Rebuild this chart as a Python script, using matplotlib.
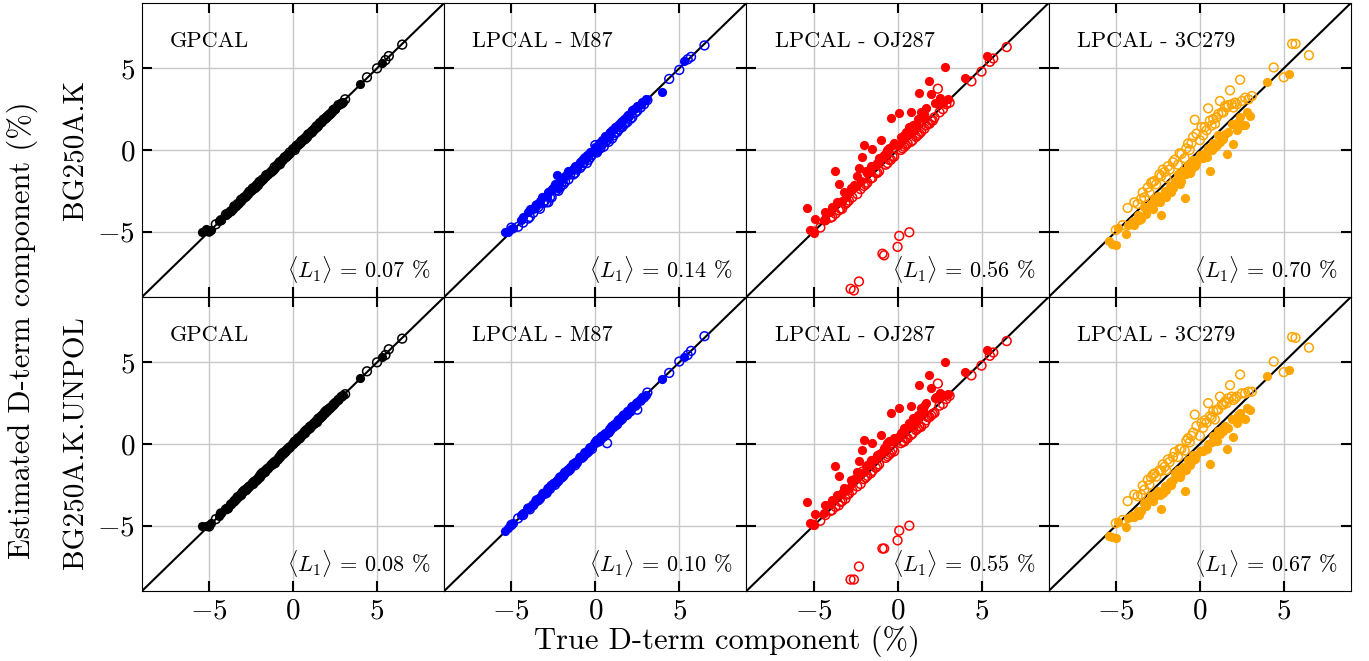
import matplotlib
matplotlib.use("Agg")
import matplotlib.pyplot as plt

# True D-term components (%), filled = one hand, open = the other
TRUE_FILLED = [-5.4, -5.2, -5.0, -4.9, -4.4, -4.3, -4.0, -3.7, -3.5, -3.3,
               -3.1, -2.9, -2.7, -2.6, -2.5, -2.3, -2.1, -2.0, -1.8, -1.7,
               -1.5, -1.3, -1.2, -1.0, -0.9, -0.7, -0.5, -0.4, -0.2, 0.0,
               0.1, 0.3, 0.5, 0.6, 0.8, 1.0, 1.1, 1.3, 1.5, 1.6,
               1.9, 2.0, 2.2, 2.4, 2.5, 2.7, 2.8, 3.0, 4.0, 5.3,
               -3.9, -3.6, -3.2, -2.8, -2.4, -2.2, -1.9, -1.6, -1.1, -0.8,
               -0.6, -0.3, 0.2, 0.4, 0.7, 0.9, 1.2, 1.4, 1.7, 2.3]
TRUE_OPEN = [-5.0, -4.6, -4.3, -4.0, -3.7, -3.5, -3.3, -3.1, -3.0, -2.8,
             -2.6, -2.3, -2.1, -2.0, -1.8, -1.6, -1.3, -1.1, -0.9, -0.8,
             -0.6, -0.5, -0.3, 0.0, 0.1, 0.2, 0.4, 0.5, 0.7, 0.9,
             1.0, 1.2, 1.4, 1.5, 1.7, 1.8, 2.0, 2.2, 2.4, 2.5,
             2.7, 2.9, 3.1, 4.4, 5.0, 5.5, 5.7, 6.5,
             -3.9, -3.4, -2.9, -2.7, -2.4, -2.2, -1.9, -1.5, -1.2, -0.7,
             -0.4, -0.2, 0.3, 0.6, 0.8, 1.1, 1.3, 1.6, 1.9, 2.1]

# Estimated values, row BG250A.K
GPCAL_K_FILLED = [-5.0, -4.85, -4.95, -4.9, -4.35, -4.3, -3.95, -3.75, -3.45, -3.3,
                  -3.15, -2.85, -2.7, -2.55, -2.5, -2.3, -2.15, -1.95, -1.8, -1.65,
                  -1.5, -1.3, -1.25, -0.95, -0.9, -0.7, -0.45, -0.4, -0.2, 0.05,
                  0.1, 0.35, 0.5, 0.65, 0.8, 1.05, 1.1, 1.35, 1.5, 1.65,
                  1.95, 2.05, 2.2, 2.45, 2.5, 2.75, 2.8, 2.95, 4.05, 5.35,
                  -3.85, -3.6, -3.25, -2.75, -2.4, -2.25, -1.85, -1.6, -1.1, -0.85,
                  -0.55, -0.3, 0.25, 0.4, 0.7, 0.95, 1.2, 1.4, 1.75, 2.3]
GPCAL_K_OPEN = [-5.0, -4.55, -4.3, -3.95, -3.75, -3.45, -3.3, -3.05, -3.0, -2.85,
                -2.55, -2.35, -2.1, -1.95, -1.8, -1.55, -1.35, -1.05, -0.9, -0.75,
                -0.6, -0.45, -0.3, 0.05, 0.0, 0.25, 0.4, 0.55, 0.7, 0.95,
                1.0, 1.2, 1.45, 1.5, 1.7, 1.85, 2.0, 2.2, 2.45, 2.5,
                2.75, 2.85, 3.1, 4.45, 5.0, 5.5, 5.75, 6.45,
                -3.9, -3.45, -2.9, -2.7, -2.35, -2.2, -1.9, -1.5, -1.25, -0.7,
                -0.4, -0.15, 0.3, 0.6, 0.8, 1.1, 1.3, 1.65, 1.9, 2.1]
M87_K_FILLED = [-5.0, -5.0, -4.85, -4.8, -4.3, -4.1, -3.8, -3.6, -3.3, -3.1,
                -2.9, -2.8, -2.5, -2.4, -2.3, -1.55, -1.9, -1.8, -1.6, -1.5,
                -1.3, -1.15, -1.0, -0.85, -0.75, -0.5, -0.3, -0.25, -0.1, 0.2,
                -0.05, 0.45, 0.6, 0.85, 0.8, 1.2, 1.3, 1.45, 1.7, 1.8,
                2.1, 2.05, 2.45, 2.55, 2.7, 2.8, 2.95, 3.1, 3.55, 5.45,
                -3.6, -3.5, -2.9, -2.6, -2.1, -2.3, -1.7, -1.3, -1.1, -0.6,
                -0.55, -0.1, 0.4, 0.6, 0.8, 1.1, 1.4, 1.6, 1.9, 2.5]
M87_K_OPEN = [-4.75, -4.7, -4.45, -4.2, -3.85, -3.4, -3.6, -3.25, -3.1, -3.2,
              -2.9, -2.45, -2.3, -2.0, -1.95, -1.8, -1.5, -1.2, -1.1, -0.95,
              -0.5, -0.8, -0.45, 0.3, -0.15, 0.1, 0.35, 0.2, 0.6, 1.0,
              0.7, 1.05, 1.25, 1.4, 1.55, 1.65, 2.1, 2.0, 2.3, 2.4,
              2.6, 2.8, 3.05, 4.35, 4.9, 5.55, 5.7, 6.4,
              -4.1, -3.5, -3.2, -2.9, -2.3, -2.5, -2.1, -1.5, -1.4, -0.8,
              -0.6, -0.3, 0.1, 0.5, 0.5, 0.9, 1.1, 1.4, 1.7, 1.9]
OJ287_K_FILLED = [-3.57, -4.9, -5.06, -4.24, -4.3, -3.77, -3.8, -1.28, -2.1, -3.1,
                  -2.9, -2.6, -2.4, -2.15, -2.2, -1.1, -0.45, 0.3, -1.4, -1.2,
                  0.05, -0.9, -0.8, 0.6, -0.4, -0.2, 0.1, 1.95, 0.4, 0.3,
                  2.25, 0.7, 1.1, 1.0, 2.35, 1.3, 1.6, 3.5, 2.0, 2.2,
                  4.2, 3.45, 2.9, 2.8, 3.2, 2.9, 5.1, 3.1, 4.4, 5.75,
                  -3.5, -3.2, -2.6, -2.3, -1.6, -1.9, -1.3, -1.0, -0.5, -0.3,
                  0.0, 0.3, 0.8, 0.9, 1.4, 1.5, 1.9, 2.3, 2.6, 2.9]
OJ287_K_OPEN = [-5.0, -4.75, -4.3, -4.15, -3.9, -3.7, -3.6, -3.3, -3.2, -8.5,
                -8.6, -8.05, -1.6, -2.2, -2.0, -1.75, -1.4, -1.3, -6.35, -6.45,
                -0.8, -0.6, -0.4, -5.93, -5.26, 0.0, 0.2, 0.3, -5.04, 0.6,
                1.2, 0.9, 1.1, 2.1, 1.5, 1.6, 1.8, 2.0, 3.75, 2.3,
                2.5, 2.8, 2.9, 4.2, 4.8, 5.4, 5.6, 6.3,
                -4.1, -3.6, -3.1, -2.9, -2.7, -2.4, -2.1, -1.7, -1.4, -0.9,
                -0.6, -0.4, 0.1, 0.4, 0.5, 0.8, 1.0, 1.3, 1.6, 1.8]
C3C279_K_FILLED = [-5.6, -5.75, -5.8, -4.75, -5.15, -4.6, -4.35, -4.0, -4.2, -3.5,
                   -3.6, -3.3, -3.0, -3.2, -2.8, -3.95, -2.5, -2.9, -2.2, -2.6,
                   -1.9, -1.5, -2.1, -1.3, -2.95, -0.9, -1.2, -0.6, -0.8, -0.3,
                   -0.5, -0.2, 0.1, -1.3, 0.4, 0.3, 0.9, 0.8, 1.0, -0.25,
                   1.6, 0.35, 1.2, 2.0, 1.5, 1.55, 2.3, 2.05, 4.15, 4.65,
                   -4.6, -4.3, -3.9, -3.6, -3.2, -2.9, -2.6, -2.3, -1.9, -1.5,
                   -1.4, -1.0, -0.5, -0.4, 0.0, 0.2, 0.5, 0.7, 1.1, 1.7]
C3C279_K_OPEN = [-4.9, -4.6, -3.55, -4.5, -3.3, -3.0, -2.9, -2.3, -2.6, -1.95,
                 -2.1, -1.6, -1.35, -1.7, -1.2, -0.75, -0.9, -0.25, -0.5, 0.1,
                 0.0, 0.4, 1.85, 0.6, 1.4, 0.9, 1.2, 2.55, 1.5, 1.6,
                 2.0, 3.0, 2.3, 2.7, 2.75, 3.65, 2.6, 2.8, 4.3, 3.0,
                 3.2, 3.1, 3.3, 5.05, 4.45, 6.5, 6.5, 5.8,
                 -3.2, -2.6, -2.0, -1.9, -1.5, -1.2, -1.0, -0.6, -0.2, 0.4,
                 0.8, 1.0, 1.4, 1.8, 1.9, 2.2, 2.3, 2.6, 2.8, 2.9]

# Estimated values, row BG250A.K.UNPOL
GPCAL_U_FILLED = [-5.05, -5.0, -4.95, -4.85, -4.4, -4.25, -4.0, -3.7, -3.5, -3.25,
                  -3.1, -2.9, -2.65, -2.6, -2.45, -2.3, -2.1, -2.05, -1.8, -1.7,
                  -1.45, -1.3, -1.2, -1.0, -0.85, -0.7, -0.5, -0.35, -0.2, 0.0,
                  0.15, 0.3, 0.55, 0.6, 0.85, 1.0, 1.15, 1.3, 1.55, 1.6,
                  1.9, 2.05, 2.2, 2.4, 2.55, 2.7, 2.85, 3.0, 4.05, 5.3,
                  -3.9, -3.55, -3.2, -2.8, -2.45, -2.2, -1.9, -1.55, -1.15, -0.8,
                  -0.6, -0.25, 0.2, 0.45, 0.7, 0.9, 1.25, 1.35, 1.7, 2.35]
GPCAL_U_OPEN = [-5.05, -4.6, -4.25, -4.0, -3.7, -3.5, -3.25, -3.1, -2.95, -2.8,
                -2.6, -2.3, -2.15, -2.0, -1.75, -1.6, -1.3, -1.1, -0.95, -0.8,
                -0.55, -0.5, -0.3, 0.0, 0.15, 0.2, 0.35, 0.5, 0.75, 0.9,
                1.05, 1.2, 1.4, 1.55, 1.7, 1.8, 2.05, 2.2, 2.4, 2.5,
                2.7, 2.9, 3.05, 4.45, 5.0, 5.45, 5.8, 6.45,
                -3.95, -3.4, -2.85, -2.7, -2.4, -2.25, -1.85, -1.5, -1.2, -0.65,
                -0.4, -0.2, 0.35, 0.6, 0.85, 1.1, 1.3, 1.6, 1.95, 2.1]
M87_U_FILLED = [-5.35, -5.15, -4.95, -4.85, -4.35, -4.2, -3.9, -3.65, -3.45, -3.25,
                -3.0, -2.85, -2.6, -2.5, -2.4, -2.2, -2.0, -1.9, -1.75, -1.6,
                -1.4, -1.25, -1.1, -0.9, -0.8, -0.6, -0.4, -0.3, -0.1, 0.1,
                0.2, 0.4, 0.6, 0.7, 0.9, 1.1, 1.2, 1.4, 1.6, 1.7,
                2.0, 2.1, 2.3, 2.5, 2.6, 2.75, 2.85, 3.0, 3.95, 5.3,
                -3.85, -3.55, -3.15, -2.7, -2.35, -2.15, -1.85, -1.55, -1.05, -0.75,
                -0.55, -0.25, 0.25, 0.45, 0.75, 0.95, 1.25, 1.45, 1.75, 2.35]
M87_U_OPEN = [-4.95, -4.55, -4.35, -3.95, -3.75, -3.45, -3.35, -3.05, -3.05, -2.75,
              -2.55, -2.35, -2.05, -2.05, -1.75, -1.65, -1.25, -1.15, -0.85, -0.85,
              -0.55, -0.55, -0.25, 0.05, 0.2, 0.15, 0.45, 0.45, 0.05, 0.85,
              1.05, 1.15, 1.45, 1.45, 1.75, 1.75, 1.95, 2.25, 2.35, 2.1,
              2.65, 2.85, 3.15, 4.35, 5.05, 5.45, 5.7, 6.6,
              -4.0, -3.45, -3.0, -2.75, -2.5, -2.25, -1.95, -1.55, -1.3, -0.75,
              -0.45, -0.3, 0.25, 0.55, 0.7, 1.05, 1.2, 1.55, 1.8, 2.0]
OJ287_U_FILLED = [-3.57, -4.85, -4.95, -4.3, -4.2, -3.75, -3.7, -1.37, -1.95, -3.0,
                  -2.8, -2.7, -2.35, -2.15, -2.1, -1.05, -0.37, 0.27, -1.3, -1.25,
                  0.05, -0.85, -0.7, 0.55, -0.5, -0.1, 0.2, 1.9, 0.35, 0.4,
                  2.2, 0.8, 1.0, 1.1, 2.3, 1.35, 1.5, 3.63, 2.1, 2.3,
                  4.2, 3.4, 2.8, 2.9, 3.1, 3.0, 5.0, 3.05, 4.4, 5.75,
                  -3.45, -3.1, -2.7, -2.2, -1.7, -1.8, -1.35, -0.95, -0.6, -0.25,
                  0.05, 0.2, 0.7, 1.0, 1.3, 1.6, 1.8, 2.2, 2.5, 2.85]
OJ287_U_OPEN = [-4.95, -4.7, -4.35, -4.1, -3.85, -3.75, -3.5, -3.35, -3.1, -8.3,
                -8.3, -7.5, -1.7, -2.15, -1.95, -1.8, -1.45, -1.25, -6.4, -6.4,
                -0.75, -0.65, -0.35, -5.9, -5.3, 0.05, 0.15, 0.35, -5.0, 0.65,
                1.15, 0.95, 1.05, 2.0, 1.45, 1.65, 1.75, 1.9, 3.7, 2.35,
                2.45, 2.75, 2.95, 4.2, 4.8, 5.4, 5.6, 6.3,
                -4.05, -3.55, -3.05, -2.85, -2.6, -2.45, -2.05, -1.65, -1.35, -0.85,
                -0.55, -0.45, 0.15, 0.35, 0.55, 0.85, 1.05, 1.25, 1.65, 1.85]
C3C279_U_FILLED = [-5.65, -5.7, -5.75, -4.8, -5.1, -4.55, -4.4, -4.1, -4.1, -3.6,
                   -3.5, -3.2, -3.1, -3.1, -2.9, -3.95, -2.6, -2.8, -2.3, -2.5,
                   -1.8, -1.6, -2.0, -1.4, -2.85, -1.0, -1.1, -0.7, -0.7, -0.4,
                   -0.4, -0.3, 0.0, -1.2, 0.5, 0.2, 0.8, 0.9, 1.1, -0.3,
                   1.5, 0.4, 1.3, 1.9, 1.6, 1.5, 2.2, 2.1, 4.15, 4.55,
                   -4.5, -4.35, -3.8, -3.5, -3.1, -3.0, -2.5, -2.2, -1.8, -1.6,
                   -1.3, -0.9, -0.4, -0.3, 0.1, 0.3, 0.6, 0.8, 1.0, 1.8]
C3C279_U_OPEN = [-4.85, -4.65, -3.5, -4.45, -3.2, -3.1, -2.8, -2.2, -2.5, -1.9,
                 -2.0, -1.65, -1.4, -1.6, -1.1, -0.8, -0.8, -0.3, -0.4, 0.2,
                 0.1, 0.5, 1.8, 0.5, 1.3, 1.0, 1.3, 2.5, 1.6, 1.5,
                 2.1, 2.9, 2.4, 2.6, 2.8, 3.6, 2.7, 2.9, 4.25, 3.1,
                 3.1, 3.2, 3.2, 5.05, 4.4, 6.55, 6.5, 5.9,
                 -3.1, -2.55, -2.05, -1.8, -1.6, -1.25, -0.95, -0.5, -0.3, 0.35,
                 0.7, 1.1, 1.45, 1.7, 2.0, 2.1, 2.4, 2.5, 2.9, 2.8]

METHODS = ["GPCAL", "LPCAL - M87", "LPCAL - OJ287", "LPCAL - 3C279"]
COLORS = ["black", "blue", "red", "orange"]
ROWS = ["BG250A.K", "BG250A.K.UNPOL"]
L1_VALUES = [[0.07, 0.14, 0.56, 0.70],
             [0.08, 0.10, 0.55, 0.67]]

EST_FILLED = [[GPCAL_K_FILLED, M87_K_FILLED, OJ287_K_FILLED, C3C279_K_FILLED],
              [GPCAL_U_FILLED, M87_U_FILLED, OJ287_U_FILLED, C3C279_U_FILLED]]
EST_OPEN = [[GPCAL_K_OPEN, M87_K_OPEN, OJ287_K_OPEN, C3C279_K_OPEN],
            [GPCAL_U_OPEN, M87_U_OPEN, OJ287_U_OPEN, C3C279_U_OPEN]]

plt.rcParams.update({
    "font.family": "cmr10",
    "mathtext.fontset": "cm",
    "axes.formatter.use_mathtext": True,
    "axes.unicode_minus": True,
})

fig, axes = plt.subplots(2, 4, figsize=(13.69, 6.61), dpi=100, sharex=True, sharey=True)
fig.subplots_adjust(left=0.1037, right=0.9868, top=0.9955, bottom=0.1059,
                    wspace=0, hspace=0)

for r in range(2):
    for c in range(4):
        ax = axes[r, c]
        col = COLORS[c]
        ax.plot([-9, 9], [-9, 9], color="black", lw=1.5, zorder=2)
        ax.scatter(TRUE_FILLED, EST_FILLED[r][c], s=44, color=col,
                   linewidths=0, zorder=3)
        ax.scatter(TRUE_OPEN, EST_OPEN[r][c], s=40, facecolors="none",
                   edgecolors=col, linewidths=1.1, zorder=4)
        ax.set_xlim(-9, 9)
        ax.set_ylim(-9, 9)
        ax.set_xticks([-5, 0, 5])
        ax.set_yticks([-5, 0, 5])
        ax.grid(True, color="#c8c8c8", lw=1)
        ax.set_axisbelow(True)
        ax.tick_params(direction="in", top=True, right=True, length=7,
                       width=1.5, labelsize=21, pad=5)
        ax.text(0.093, 0.85, METHODS[c], transform=ax.transAxes,
                fontsize=16, ha="left", va="baseline")
        ax.text(0.955, 0.065, r"$\langle L_1 \rangle$ = %.2f %%" % L1_VALUES[r][c],
                transform=ax.transAxes, fontsize=16, ha="right", va="baseline")

fig.text(76 / 1369, 1 - 150 / 661, ROWS[0], rotation=90, ha="center",
         va="center", fontsize=21)
fig.text(76 / 1369, 1 - 443 / 661, ROWS[1], rotation=90, ha="center",
         va="center", fontsize=21)
fig.text(22 / 1369, 1 - 330 / 661, "Estimated D-term component (%)", rotation=90,
         ha="center", va="center", fontsize=22)
fig.text(727 / 1369, 1 - 641 / 661, "True D-term component (%)",
         ha="center", va="center", fontsize=22)

fig.savefig("out.png", dpi=100)
